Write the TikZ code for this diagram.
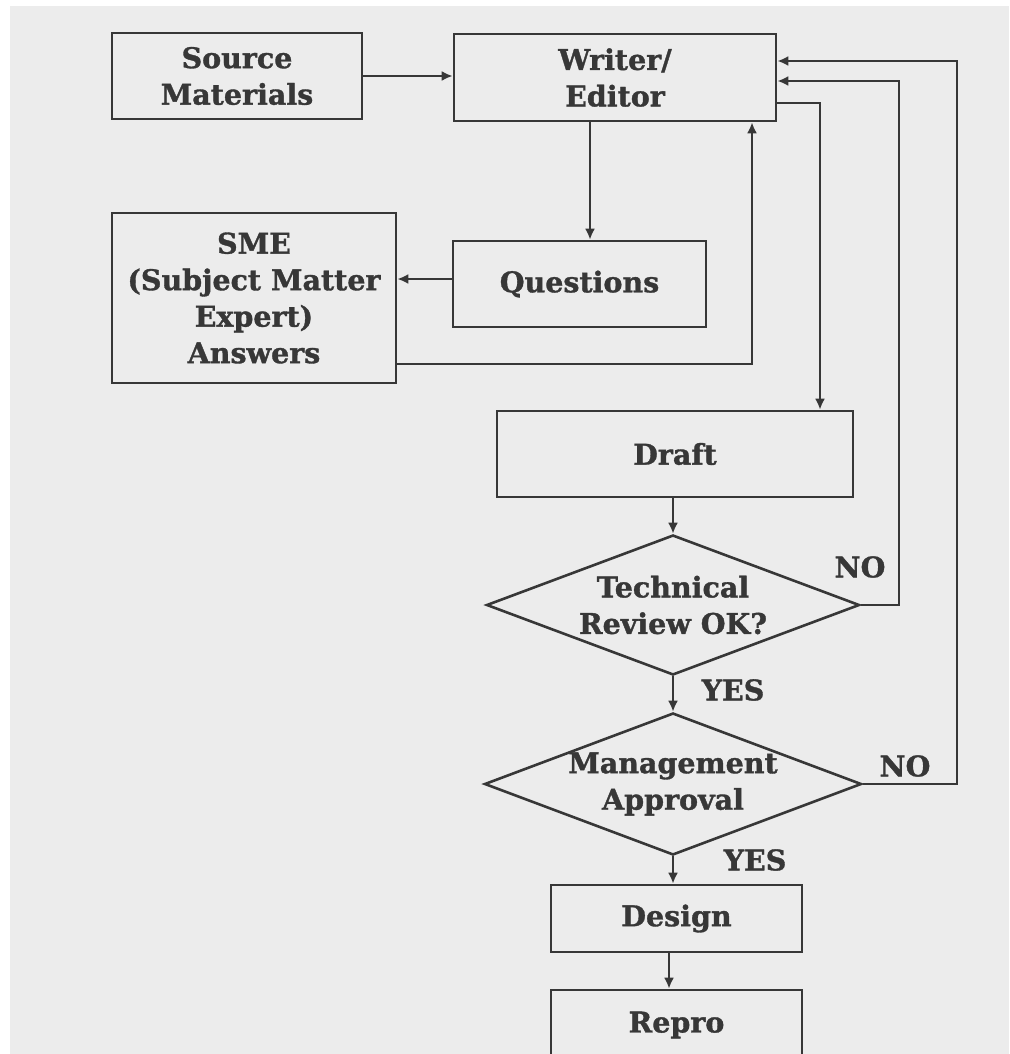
\documentclass[tikz,border=0pt]{standalone}
\usepackage{fontspec}
\setmainfont{DejaVu Serif}[BoldFeatures={FakeBold=1.2}]
\usetikzlibrary{shapes.geometric,arrows.meta}
\definecolor{paper}{RGB}{236,236,236}
\definecolor{ink}{RGB}{55,55,55}
\tikzset{
  box/.style={draw=ink, line width=2.6pt, rectangle, inner sep=0pt, align=center,
    font=\fontsize{28.5}{36.5}\selectfont\bfseries, text=ink},
  dia/.style={draw=ink, line width=2.6pt, diamond, aspect=2.66, inner sep=-20pt, align=center,
    font=\fontsize{28.5}{36.5}\selectfont\bfseries, text=ink},
  lbl/.style={inner sep=0pt, font=\fontsize{28.5}{36.5}\selectfont\bfseries, text=ink},
  arr/.style={draw=ink, line width=2.6pt, -{Latex[length=11pt,width=10pt]}}
}
\begin{document}
\begin{tikzpicture}[x=1pt,y=-1pt]
\useasboundingbox (0,0) rectangle (1009,1054);
\clip (0,0) rectangle (1009,1054);
\fill[paper] (10,6) rectangle (1009,1054);

\node[box, minimum width=250pt, minimum height=86pt] (src) at (237,76) {Source\\Materials};
\node[box, minimum width=322pt, minimum height=87pt] (wri) at (615,77.5) {Writer/\\Editor};
\node[box, minimum width=284pt, minimum height=170pt] (sme) at (254,298) {SME\\(Subject Matter\\Expert)\\Answers};
\node[box, minimum width=253pt, minimum height=86pt] (q) at (579.5,284) {Questions};
\node[box, minimum width=356pt, minimum height=86pt] (draft) at (675,454) {Draft};
\node[dia, minimum width=373pt, minimum height=140pt] (tech) at (673,605) {Technical\\Review OK?};
\node[dia, minimum width=377pt, minimum height=142pt] (mgmt) at (673,784) {Management\\Approval};
\node[box, minimum width=251pt, minimum height=67pt] (design) at (676.5,918.5) {Design};
\node[box, minimum width=251pt, minimum height=70pt] (repro) at (676.5,1025) {Repro};

\node[lbl] (no1) at (860,567) {NO};
\node[lbl] (no2) at (905,766) {NO};
\node[lbl] (yes1) at (733,690) {YES};
\node[lbl] (yes2) at (755,860) {YES};

\draw[arr] (src.east) -- (src.east -| wri.west);
\draw[arr] (wri.south -| 590,0) -- (q.north -| 590,0);
\draw[arr] (q.west |- 0,279) -- (sme.east |- 0,279);
\draw[arr] (sme.east |- 0,364) -- (752,364) -- (wri.south -| 752,0);
\draw[arr] (wri.east |- 0,103) -- (820,103) -- (draft.north -| 820,0);
\draw[arr] (draft.south -| tech.north) -- (tech.north);
\draw[arr] (tech.south) -- (mgmt.north);
\draw[arr] (tech.east) -- (899,605) -- (899,81) -- (wri.east |- 0,81);
\draw[arr] (mgmt.east) -- (957,784) -- (957,61) -- (wri.east |- 0,61);
\draw[arr] (mgmt.south) -- (design.north -| mgmt.south);
\draw[arr] (design.south -| 669,0) -- (repro.north -| 669,0);
\end{tikzpicture}
\end{document}
